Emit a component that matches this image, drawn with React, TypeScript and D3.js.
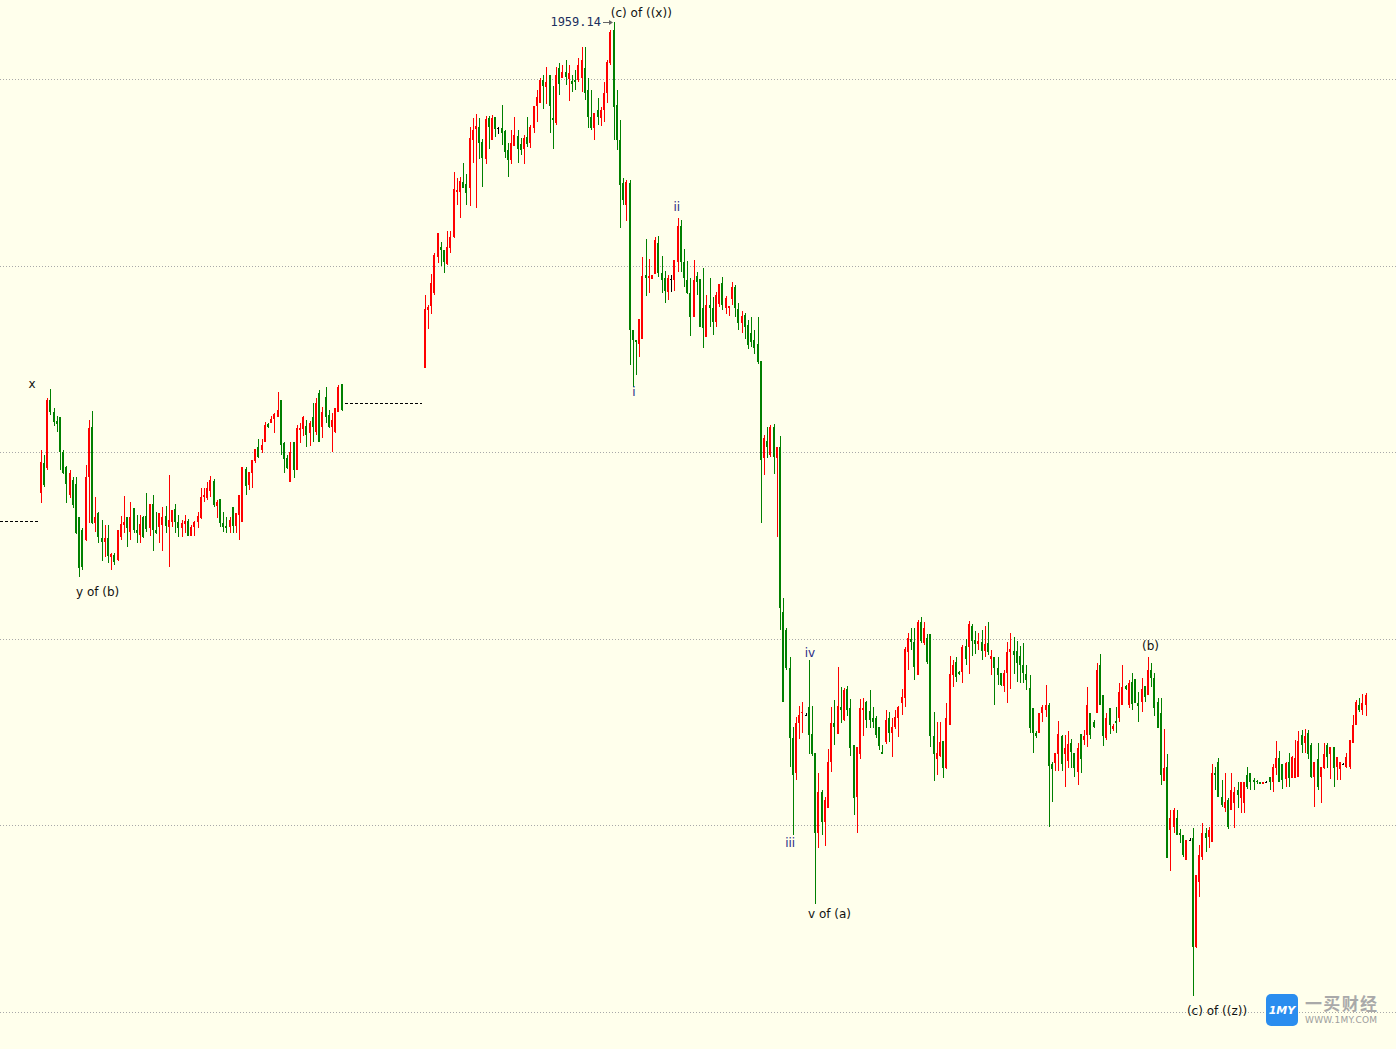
import React from "react";
import * as d3 from "d3";

// ---- Segment 1 (before the data gap) : open / high / low / close ----
const seg1Open = [
  1883.5, 1888.3, 1887.5, 1898.4, 1896.5, 1895.0, 1895.7, 1890.1, 1887.6, 1883.1,
  1885.6, 1884.9, 1879.6, 1877.5, 1875.9, 1886.0, 1894.1, 1878.6, 1880.3, 1876.2,
  1875.6, 1876.2, 1873.2, 1873.5, 1872.7, 1876.4, 1878.3, 1879.6, 1877.2, 1881.1,
  1877.5, 1876.7, 1879.6, 1879.8, 1877.8, 1881.7, 1877.5, 1878.0, 1878.3, 1879.8,
  1878.0, 1878.8, 1880.9, 1878.8, 1877.8, 1878.5, 1879.0, 1876.6, 1878.0, 1878.8,
  1879.5, 1882.8, 1882.7, 1883.8, 1885.4, 1881.4, 1882.5, 1878.6, 1878.2, 1878.0,
  1881.2, 1878.2, 1879.9, 1878.8, 1887.3, 1884.8, 1886.7, 1888.6, 1890.9, 1890.4,
  1891.7, 1894.6, 1894.7, 1895.4, 1895.7, 1898.4, 1891.5, 1889.1, 1885.2, 1891.7,
  1887.2, 1893.6, 1893.8, 1894.2, 1893.1, 1895.7, 1893.3, 1899.5, 1894.1, 1898.9,
  1896.0, 1894.1, 1893.3, 1896.5, 1901.0,
];
const seg1High = [
  1890.4, 1889.6, 1898.7, 1900.2, 1897.1, 1895.9, 1895.7, 1890.4, 1887.8, 1887.2,
  1886.0, 1886.0, 1879.6, 1877.8, 1888.0, 1895.2, 1896.6, 1882.8, 1880.4, 1879.1,
  1878.3, 1878.3, 1873.8, 1873.8, 1877.5, 1879.8, 1883.0, 1879.6, 1882.0, 1881.1,
  1879.9, 1879.9, 1879.8, 1883.5, 1881.7, 1883.1, 1880.4, 1880.3, 1881.2, 1881.4,
  1886.4, 1880.7, 1881.7, 1879.9, 1879.1, 1879.9, 1879.3, 1878.3, 1879.0, 1880.4,
  1884.3, 1884.3, 1885.2, 1886.2, 1885.7, 1882.3, 1882.5, 1880.4, 1879.6, 1879.6,
  1881.2, 1880.3, 1883.1, 1887.6, 1887.6, 1886.8, 1888.8, 1890.5, 1892.1, 1892.1,
  1894.9, 1894.7, 1895.9, 1896.3, 1899.7, 1898.4, 1891.7, 1889.6, 1891.7, 1891.7,
  1894.4, 1894.7, 1895.9, 1895.2, 1895.0, 1897.9, 1898.7, 1900.0, 1897.3, 1900.5,
  1896.8, 1896.3, 1897.1, 1900.8, 1901.0,
];
const seg1Low = [
  1881.9, 1884.4, 1887.2, 1896.0, 1894.2, 1893.3, 1887.2, 1886.5, 1881.9, 1882.7,
  1881.1, 1876.9, 1870.0, 1871.1, 1875.7, 1878.6, 1878.5, 1877.2, 1875.4, 1872.5,
  1873.2, 1872.2, 1871.1, 1871.9, 1872.5, 1875.9, 1877.0, 1874.8, 1875.9, 1877.0,
  1875.4, 1875.4, 1876.2, 1877.2, 1876.6, 1874.1, 1876.9, 1875.4, 1874.1, 1877.0,
  1871.6, 1878.0, 1877.0, 1876.4, 1876.4, 1877.0, 1876.6, 1876.6, 1876.6, 1877.8,
  1879.3, 1882.0, 1882.3, 1882.8, 1881.2, 1879.5, 1878.0, 1877.2, 1877.0, 1877.0,
  1877.0, 1877.0, 1875.9, 1878.8, 1883.1, 1884.0, 1884.3, 1888.3, 1889.1, 1889.9,
  1891.7, 1893.9, 1894.7, 1893.1, 1895.7, 1889.6, 1886.7, 1887.3, 1885.2, 1885.9,
  1887.2, 1891.5, 1892.6, 1890.9, 1891.0, 1891.7, 1892.8, 1891.7, 1892.3, 1894.7,
  1893.9, 1890.1, 1893.1, 1896.5, 1896.6,
];
const seg1Close = [
  1888.5, 1884.8, 1898.4, 1896.5, 1894.9, 1894.6, 1890.1, 1886.7, 1884.9, 1886.7,
  1881.5, 1877.0, 1871.4, 1871.6, 1886.0, 1893.9, 1878.6, 1879.6, 1876.4, 1875.6,
  1876.2, 1873.3, 1873.7, 1872.4, 1877.5, 1878.5, 1878.8, 1877.8, 1879.6, 1877.5,
  1877.0, 1878.5, 1876.4, 1877.7, 1881.7, 1877.5, 1877.0, 1880.3, 1879.6, 1878.2,
  1879.1, 1880.7, 1878.8, 1877.8, 1878.6, 1879.0, 1876.6, 1878.0, 1878.8, 1879.8,
  1882.8, 1883.1, 1884.3, 1885.6, 1881.5, 1882.0, 1878.6, 1878.0, 1877.8, 1879.1,
  1878.2, 1880.3, 1883.1, 1887.6, 1884.6, 1886.8, 1888.8, 1890.5, 1889.3, 1891.2,
  1894.4, 1894.1, 1895.4, 1896.2, 1896.8, 1891.2, 1888.9, 1887.5, 1890.1, 1887.2,
  1893.9, 1893.9, 1895.7, 1892.8, 1894.7, 1894.1, 1897.9, 1891.7, 1896.5, 1895.7,
  1894.1, 1895.2, 1897.1, 1900.5, 1896.8,
];

// ---- Segment 2 (after the data gap) ----
const seg2Open = [
  1903.6, 1912.9, 1913.5, 1915.6, 1921.4, 1923.0, 1922.5, 1920.3, 1922.8, 1924.6,
  1931.8, 1931.8, 1933.5, 1933.1, 1932.5, 1940.2, 1942.0, 1942.3, 1939.9, 1937.1,
  1943.7, 1940.2, 1943.9, 1942.1, 1942.1, 1941.6, 1938.6, 1937.0, 1939.2, 1940.8,
  1939.6, 1938.8, 1940.7, 1939.7, 1942.1, 1945.7, 1946.1, 1949.8, 1948.7, 1950.6,
  1943.7, 1942.9, 1951.8, 1950.2, 1951.1, 1950.0, 1949.7, 1949.8, 1949.8, 1950.2,
  1951.8, 1948.2, 1943.9, 1942.1, 1945.0, 1943.7, 1945.0, 1947.8, 1952.6, 1957.9,
  1945.8, 1940.2, 1933.3, 1929.8, 1933.3, 1909.7, 1908.1, 1907.4, 1908.2, 1918.5,
  1918.0, 1917.9, 1918.7, 1923.6, 1918.8, 1918.0, 1915.8, 1917.9, 1917.7, 1920.6,
  1926.4, 1920.6, 1917.7, 1915.6, 1911.8, 1918.3, 1917.9, 1913.2, 1908.5, 1913.7,
  1913.2, 1911.0, 1913.8, 1917.2, 1913.2, 1913.2, 1914.6, 1916.6, 1913.0, 1910.8,
  1912.1, 1910.5, 1909.2, 1908.1, 1907.4, 1904.7, 1889.1, 1891.8, 1889.6, 1894.1,
  1889.1, 1890.9, 1864.3, 1861.4, 1855.3, 1844.1, 1838.5, 1846.5, 1848.1, 1847.8,
  1849.1, 1844.7, 1841.7, 1828.8, 1835.3, 1830.6, 1832.8, 1840.2, 1846.5, 1844.7,
  1849.1, 1847.0, 1852.0, 1848.8, 1843.0, 1834.6, 1841.4, 1848.6, 1849.9, 1848.4,
  1847.3, 1847.3, 1845.9, 1841.8, 1843.4, 1847.3, 1844.9, 1845.9, 1847.3, 1849.6,
  1850.5, 1857.9, 1860.0, 1859.5, 1854.2, 1862.7, 1859.4, 1860.2, 1860.8, 1844.4,
  1840.6, 1841.2, 1843.6, 1839.3, 1846.2, 1854.2, 1856.3, 1854.7, 1854.7, 1858.9,
  1858.7, 1862.1, 1859.8, 1859.2, 1859.5, 1858.1, 1859.4, 1856.8, 1857.1, 1855.3,
  1854.5, 1852.4, 1854.5, 1857.8, 1858.1, 1858.1, 1857.3, 1855.8, 1854.4, 1852.1,
  1848.8, 1844.9, 1844.9, 1848.1, 1848.6, 1849.4, 1839.9, 1840.1, 1841.4, 1844.4,
  1841.5, 1840.4, 1843.3, 1841.7, 1838.6, 1844.7, 1843.8, 1844.6, 1848.1, 1846.7,
  1848.1, 1855.8, 1851.0, 1844.1, 1848.9, 1845.5, 1846.8, 1847.3, 1849.4, 1852.4,
  1849.4, 1853.1, 1853.6, 1849.7, 1849.9, 1852.4, 1851.0, 1855.0, 1853.7, 1849.9,
  1848.0, 1837.2, 1839.4, 1829.3, 1829.8, 1831.2, 1828.8, 1828.5, 1824.5, 1827.7,
  1827.9, 1810.5, 1820.9, 1825.0, 1828.8, 1828.2, 1827.4, 1838.5, 1840.2, 1834.6,
  1832.8, 1834.1, 1832.5, 1833.6, 1835.7, 1834.4, 1833.6, 1838.1, 1838.5, 1837.3,
  1837.2, 1837.0, 1836.7, 1837.0, 1837.8, 1837.0, 1839.3, 1840.9, 1839.8, 1837.5,
  1840.2, 1837.7, 1837.7, 1837.8, 1844.6, 1843.3, 1844.9, 1843.0, 1837.8, 1840.6,
  1837.8, 1839.3, 1843.0, 1841.4, 1842.6, 1839.4, 1839.0, 1839.9, 1839.4, 1839.4,
  1843.3, 1846.2, 1849.4, 1848.6, 1849.4,
];
const seg2High = [
  1915.3, 1913.7, 1918.7, 1922.0, 1925.3, 1923.8, 1922.5, 1925.6, 1925.6, 1935.1,
  1934.1, 1934.3, 1936.5, 1934.7, 1942.3, 1943.7, 1944.4, 1943.7, 1940.4, 1944.1,
  1944.1, 1944.2, 1943.9, 1942.3, 1945.8, 1941.8, 1939.7, 1941.8, 1943.9, 1941.8,
  1940.5, 1941.0, 1943.9, 1942.6, 1945.7, 1948.2, 1950.2, 1950.6, 1951.9, 1950.6,
  1948.9, 1951.9, 1952.6, 1952.3, 1953.1, 1952.3, 1950.6, 1951.5, 1953.4, 1955.1,
  1955.1, 1950.2, 1948.2, 1944.5, 1946.9, 1945.5, 1949.5, 1953.1, 1957.9, 1959.14,
  1948.2, 1943.4, 1934.1, 1933.8, 1933.8, 1909.7, 1908.1, 1911.4, 1921.4, 1924.3,
  1921.1, 1918.5, 1924.6, 1924.8, 1921.6, 1919.1, 1918.5, 1918.5, 1920.9, 1927.7,
  1927.3, 1922.7, 1920.8, 1918.0, 1920.9, 1919.0, 1917.9, 1919.6, 1915.3, 1918.0,
  1915.0, 1915.8, 1917.1, 1918.2, 1915.1, 1913.5, 1917.4, 1916.9, 1914.0, 1912.7,
  1912.4, 1911.3, 1911.8, 1909.7, 1911.8, 1904.7, 1892.8, 1894.1, 1894.4, 1894.6,
  1890.9, 1892.6, 1866.6, 1861.8, 1857.1, 1845.9, 1847.5, 1849.2, 1849.9, 1848.1,
  1856.6, 1849.2, 1841.7, 1838.5, 1835.7, 1834.6, 1842.3, 1849.1, 1850.2, 1855.5,
  1852.3, 1852.1, 1852.4, 1850.4, 1843.0, 1842.6, 1850.4, 1850.5, 1850.0, 1851.7,
  1849.1, 1847.6, 1845.9, 1843.0, 1848.6, 1848.3, 1847.3, 1848.6, 1849.2, 1852.0,
  1858.7, 1861.0, 1861.8, 1861.8, 1863.1, 1863.5, 1862.7, 1860.8, 1860.8, 1848.3,
  1846.7, 1846.7, 1843.6, 1849.7, 1857.3, 1856.6, 1857.0, 1854.9, 1859.0, 1860.0,
  1862.9, 1862.4, 1861.3, 1861.0, 1861.4, 1862.1, 1862.7, 1858.2, 1857.1, 1857.1,
  1854.5, 1855.0, 1859.5, 1861.0, 1860.3, 1859.7, 1858.9, 1859.4, 1855.8, 1854.2,
  1848.8, 1845.2, 1848.1, 1849.4, 1852.6, 1849.7, 1840.2, 1841.7, 1846.8, 1844.6,
  1844.6, 1845.2, 1843.9, 1841.7, 1843.3, 1844.7, 1845.4, 1852.3, 1848.1, 1847.0,
  1856.1, 1857.6, 1851.0, 1848.0, 1848.9, 1846.3, 1849.1, 1852.9, 1855.8, 1852.6,
  1853.3, 1854.5, 1853.6, 1851.5, 1853.7, 1852.4, 1857.0, 1856.1, 1854.5, 1850.5,
  1850.5, 1845.5, 1841.5, 1832.5, 1832.8, 1832.4, 1829.5, 1828.5, 1827.7, 1827.9,
  1829.6, 1822.1, 1826.9, 1830.4, 1829.6, 1829.8, 1839.8, 1839.4, 1840.9, 1837.3,
  1838.5, 1834.4, 1838.5, 1836.1, 1837.0, 1837.0, 1837.0, 1839.4, 1838.5, 1837.7,
  1837.3, 1837.0, 1837.0, 1837.2, 1837.8, 1839.8, 1843.6, 1842.0, 1839.8, 1840.2,
  1841.7, 1841.2, 1843.8, 1845.1, 1845.4, 1845.5, 1845.4, 1843.3, 1840.2, 1843.3,
  1839.4, 1843.3, 1843.3, 1842.6, 1842.6, 1841.0, 1840.2, 1840.1, 1841.7, 1843.8,
  1847.8, 1850.2, 1850.5, 1851.2, 1851.3,
];
const seg2Low = [
  1903.6, 1909.8, 1912.2, 1915.3, 1920.4, 1920.0, 1918.8, 1920.1, 1922.0, 1924.4,
  1929.8, 1927.7, 1932.5, 1929.8, 1929.6, 1936.5, 1929.3, 1937.1, 1932.6, 1936.3,
  1938.8, 1940.2, 1940.7, 1941.2, 1939.4, 1937.3, 1934.3, 1936.3, 1939.2, 1936.5,
  1937.8, 1936.3, 1939.1, 1938.9, 1941.3, 1943.1, 1946.1, 1945.2, 1946.0, 1941.3,
  1938.8, 1942.6, 1947.4, 1950.2, 1949.0, 1946.5, 1947.9, 1948.2, 1949.5, 1947.9,
  1946.6, 1942.1, 1941.8, 1940.2, 1942.6, 1942.4, 1943.1, 1946.1, 1952.3, 1940.2,
  1938.6, 1926.1, 1929.8, 1927.2, 1904.0, 1900.5, 1902.4, 1905.3, 1908.2, 1915.1,
  1915.6, 1917.9, 1918.7, 1918.2, 1915.6, 1914.0, 1914.5, 1915.8, 1915.9, 1919.0,
  1919.0, 1916.6, 1915.4, 1908.7, 1911.8, 1915.3, 1910.1, 1906.8, 1908.5, 1910.1,
  1908.9, 1910.1, 1913.4, 1912.9, 1912.2, 1911.9, 1913.7, 1911.7, 1909.7, 1909.2,
  1908.2, 1906.6, 1906.9, 1905.8, 1904.2, 1878.6, 1886.4, 1889.1, 1889.3, 1886.5,
  1876.4, 1861.4, 1849.9, 1855.0, 1839.4, 1828.5, 1837.3, 1843.9, 1844.9, 1847.6,
  1841.4, 1841.2, 1817.3, 1826.4, 1828.5, 1826.7, 1832.8, 1838.6, 1843.0, 1844.7,
  1846.5, 1846.8, 1847.6, 1841.2, 1831.7, 1828.8, 1840.6, 1844.4, 1845.7, 1845.7,
  1845.7, 1844.1, 1842.2, 1841.4, 1843.1, 1843.4, 1841.0, 1845.5, 1844.2, 1847.8,
  1849.1, 1855.0, 1858.2, 1853.3, 1854.2, 1859.4, 1859.0, 1856.0, 1842.6, 1837.2,
  1838.1, 1841.0, 1837.7, 1839.1, 1846.2, 1852.3, 1853.1, 1854.1, 1852.9, 1855.8,
  1854.4, 1857.3, 1857.6, 1858.2, 1856.6, 1857.1, 1857.4, 1854.2, 1849.4, 1852.6,
  1852.4, 1851.5, 1849.7, 1852.0, 1854.4, 1853.1, 1852.9, 1852.9, 1851.8, 1844.9,
  1841.7, 1844.1, 1844.9, 1846.7, 1847.5, 1829.8, 1833.8, 1838.8, 1838.8, 1838.8,
  1836.1, 1839.3, 1839.3, 1837.8, 1836.5, 1838.5, 1843.0, 1842.6, 1843.9, 1845.7,
  1848.1, 1849.4, 1842.8, 1843.8, 1844.7, 1845.2, 1844.9, 1846.7, 1849.4, 1851.8,
  1848.9, 1848.6, 1849.7, 1846.7, 1848.3, 1849.9, 1851.0, 1852.3, 1847.6, 1845.7,
  1836.5, 1837.2, 1824.8, 1822.6, 1828.8, 1828.5, 1827.2, 1825.0, 1824.5, 1827.5,
  1802.5, 1810.3, 1818.5, 1824.5, 1825.8, 1826.4, 1827.4, 1835.7, 1834.6, 1833.0,
  1832.2, 1829.5, 1832.5, 1829.6, 1832.8, 1832.0, 1832.0, 1835.9, 1835.7, 1835.7,
  1836.7, 1836.7, 1836.7, 1836.9, 1835.7, 1835.4, 1838.1, 1837.0, 1835.9, 1836.1,
  1836.2, 1837.7, 1837.7, 1837.8, 1841.7, 1841.7, 1840.6, 1837.7, 1833.0, 1835.7,
  1833.6, 1839.0, 1839.3, 1837.5, 1836.2, 1837.3, 1837.3, 1839.8, 1839.3, 1839.0,
  1843.3, 1846.2, 1848.3, 1847.8, 1847.6,
];
const seg2Close = [
  1913.0, 1913.4, 1917.2, 1921.7, 1925.3, 1922.5, 1920.6, 1923.0, 1924.6, 1932.3,
  1932.2, 1933.6, 1932.5, 1931.7, 1940.5, 1941.8, 1942.5, 1939.7, 1937.3, 1943.6,
  1942.3, 1943.7, 1942.0, 1942.1, 1941.3, 1938.3, 1937.0, 1939.7, 1941.0, 1938.8,
  1938.6, 1940.5, 1939.6, 1942.3, 1945.7, 1947.1, 1949.8, 1948.9, 1949.5, 1945.7,
  1943.4, 1950.6, 1949.2, 1951.1, 1950.3, 1951.0, 1949.2, 1949.5, 1952.3, 1953.1,
  1947.8, 1943.9, 1942.1, 1944.5, 1943.9, 1945.0, 1947.8, 1952.7, 1957.6, 1945.5,
  1940.2, 1933.0, 1930.6, 1933.5, 1909.7, 1908.1, 1907.7, 1911.4, 1918.3, 1918.0,
  1918.3, 1918.5, 1924.1, 1918.8, 1917.7, 1915.9, 1918.0, 1917.9, 1920.9, 1926.4,
  1920.6, 1918.0, 1915.6, 1911.8, 1917.7, 1917.4, 1910.1, 1910.0, 1913.7, 1913.2,
  1911.0, 1915.3, 1917.1, 1913.7, 1914.8, 1913.5, 1916.6, 1913.2, 1910.8, 1911.9,
  1910.1, 1907.3, 1907.7, 1906.8, 1904.5, 1888.8, 1892.3, 1890.9, 1894.1, 1889.3,
  1890.9, 1865.0, 1849.9, 1855.3, 1844.1, 1838.1, 1846.5, 1847.8, 1848.3, 1847.8,
  1844.6, 1841.4, 1828.8, 1835.3, 1830.6, 1834.1, 1840.2, 1846.5, 1845.9, 1849.2,
  1848.6, 1851.8, 1848.6, 1842.5, 1834.4, 1842.6, 1848.8, 1848.9, 1847.0, 1847.0,
  1846.7, 1844.6, 1842.8, 1841.4, 1847.0, 1844.9, 1845.9, 1847.5, 1849.1, 1850.7,
  1858.4, 1860.2, 1859.5, 1855.5, 1862.7, 1859.7, 1861.8, 1856.3, 1844.3, 1841.4,
  1841.7, 1843.4, 1839.3, 1847.3, 1854.4, 1855.8, 1853.9, 1854.4, 1858.7, 1856.8,
  1862.3, 1859.7, 1859.2, 1859.7, 1858.1, 1859.2, 1857.8, 1857.3, 1855.3, 1854.1,
  1852.6, 1854.5, 1857.9, 1858.4, 1857.4, 1856.1, 1855.8, 1854.5, 1853.4, 1845.7,
  1844.9, 1844.3, 1848.1, 1849.1, 1849.4, 1839.6, 1839.1, 1841.7, 1844.7, 1839.9,
  1842.5, 1843.1, 1841.8, 1839.3, 1842.5, 1840.7, 1844.3, 1849.4, 1844.6, 1845.9,
  1855.0, 1849.4, 1844.3, 1847.3, 1846.2, 1846.0, 1846.5, 1851.5, 1852.3, 1852.0,
  1852.9, 1849.5, 1849.7, 1849.2, 1852.0, 1850.7, 1855.0, 1853.7, 1848.9, 1845.7,
  1838.1, 1839.3, 1824.8, 1831.2, 1832.5, 1828.5, 1828.5, 1825.3, 1827.7, 1827.7,
  1810.5, 1822.1, 1825.3, 1828.8, 1828.0, 1829.3, 1838.5, 1838.1, 1834.6, 1833.3,
  1833.8, 1829.8, 1835.7, 1835.4, 1834.9, 1837.0, 1836.9, 1836.2, 1837.0, 1836.9,
  1836.9, 1836.7, 1837.0, 1837.0, 1836.9, 1839.4, 1840.9, 1837.0, 1837.3, 1840.1,
  1837.7, 1841.0, 1840.9, 1843.6, 1843.0, 1844.4, 1841.4, 1837.8, 1840.2, 1836.2,
  1839.4, 1841.4, 1841.0, 1842.6, 1839.3, 1841.0, 1840.2, 1839.9, 1841.0, 1843.8,
  1846.2, 1849.9, 1848.6, 1849.7, 1851.0,
];

const GAP_BARS = 25; // empty bars between the two segments
const gridPrices = [1950, 1920, 1890, 1860, 1830, 1800];

// Elliott-wave annotations (bar index, price)
const waveText = ["x", "y of (b)", "(c) of ((x))", "i", "ii", "iii", "iv", "v of (a)", "(b)", "(c) of ((z))"];
const waveBar = [-2.7, 17.8, 187.7, 185.4, 198.8, 234.2, 240.4, 246.5, 346.8, 367.6];
const wavePrice = [1900.9, 1867.6, 1960.6, 1899.6, 1929.5, 1827.1, 1857.7, 1815.8, 1858.8, 1800.2];
const waveMinor = [false, false, false, true, true, true, true, false, false, false];

// dotted reference levels (from bar, to bar, price)
const refFrom = [-13, 95.1];
const refTo = [-0.8, 119.3];
const refPrice = [1879.0, 1897.9];

type Bar = { i: number; o: number; h: number; l: number; c: number };

export default function App() {
  const W = 1396;
  const H = 1049;
  const bars: Bar[] = [];
  seg1Open.forEach((o, j) => bars.push({ i: j, o, h: seg1High[j], l: seg1Low[j], c: seg1Close[j] }));
  const start2 = seg1Open.length + GAP_BARS;
  seg2Open.forEach((o, j) =>
    bars.push({ i: start2 + j, o, h: seg2High[j], l: seg2Low[j], c: seg2Close[j] })
  );
  const lastIndex = start2 + seg2Open.length - 1;

  const x = d3.scaleLinear().domain([0, lastIndex]).range([40.7, 40.7 + 3.2 * lastIndex]);
  const y = d3.scaleLinear().domain([1800, 1950]).range([1012, 79]);

  const top = d3.greatest(bars, (b) => b.h) as Bar;
  const topX = Math.round(x(top.i));
  const topY = Math.round(y(top.h));

  const labelFont = "'DejaVu Sans', Verdana, sans-serif";

  return (
    <svg
      width={W}
      height={H}
      viewBox={`0 0 ${W} ${H}`}
      style={{ position: "absolute", left: 0, top: 0, display: "block" }}
    >
      <rect x={0} y={0} width={W} height={H} fill="#FFFFEC" />

      {/* grid */}
      {gridPrices.map((p) => {
        const gy = Math.round(y(p)) + 0.5;
        return (
          <line
            key={p}
            x1={0}
            x2={W}
            y1={gy}
            y2={gy}
            stroke="#a9a9a9"
            strokeWidth={1}
            strokeDasharray="1,2"
            shapeRendering="crispEdges"
          />
        );
      })}

      {/* reference dotted levels */}
      {refPrice.map((p, k) => {
        const ly = Math.round(y(p)) + 0.5;
        return (
          <line
            key={"ref" + k}
            x1={Math.max(0, x(refFrom[k]))}
            x2={x(refTo[k])}
            y1={ly}
            y2={ly}
            stroke="#000"
            strokeWidth={1}
            strokeDasharray="3,2"
            shapeRendering="crispEdges"
          />
        );
      })}

      {/* candles */}
      <g shapeRendering="crispEdges">
        {bars.map((b) => {
          const xc = Math.round(x(b.i));
          const col = b.c > b.o ? "#FF0000" : b.c < b.o ? "#008000" : "#000000";
          const yH = Math.round(y(Math.max(b.h, b.o, b.c)));
          const yL = Math.round(y(Math.min(b.l, b.o, b.c)));
          const yT = Math.round(y(Math.max(b.o, b.c)));
          const yB = Math.round(y(Math.min(b.o, b.c)));
          return (
            <g key={b.i}>
              <rect x={xc} y={yH} width={1} height={Math.max(1, yL - yH)} fill={col} />
              <rect x={xc - 1} y={yT} width={2} height={Math.max(1, yB - yT)} fill={col} />
            </g>
          );
        })}
      </g>

      {/* high price marker */}
      <text
        x={topX - 13}
        y={topY}
        textAnchor="end"
        dominantBaseline="central"
        fontFamily="'DejaVu Sans Mono', 'Liberation Mono', monospace"
        fontSize={12}
        fill="#1b2f5e"
      >
        {d3.format(".2f")(top.h)}
      </text>
      <line x1={topX - 11} x2={topX - 3} y1={topY + 0.5} y2={topY + 0.5} stroke="#666" strokeWidth={1} />
      <path d={`M${topX - 1},${topY + 0.5} L${topX - 5},${topY - 2} L${topX - 5},${topY + 3} Z`} fill="#666" />

      {/* wave labels */}
      {waveText.map((t, k) => (
        <text
          key={"w" + k}
          x={x(waveBar[k])}
          y={y(wavePrice[k])}
          textAnchor="middle"
          dominantBaseline="central"
          fontFamily={labelFont}
          fontSize={12}
          fill={waveMinor[k] ? "#2b2b86" : "#111111"}
        >
          {t}
        </text>
      ))}

      {/* watermark */}
      <g>
        <rect x={1266} y={994} width={32} height={32} rx={5} fill="#2a8def" />
        <text
          x={1282}
          y={1014}
          textAnchor="middle"
          fill="#ffffff"
          fontFamily={labelFont}
          fontSize={11}
          fontWeight="bold"
          fontStyle="italic"
        >
          1MY
        </text>
        <text
          x={1305}
          y={1010}
          fill="#a9a9a9"
          fontFamily="'Noto Sans CJK SC', sans-serif"
          fontSize={17}
          fontWeight="bold"
          textLength={72}
        >
          一买财经
        </text>
        <text x={1305} y={1023} fill="#9d9d9d" fontFamily={labelFont} fontSize={9} textLength={72}>
          WWW.1MY.COM
        </text>
      </g>
    </svg>
  );
}
